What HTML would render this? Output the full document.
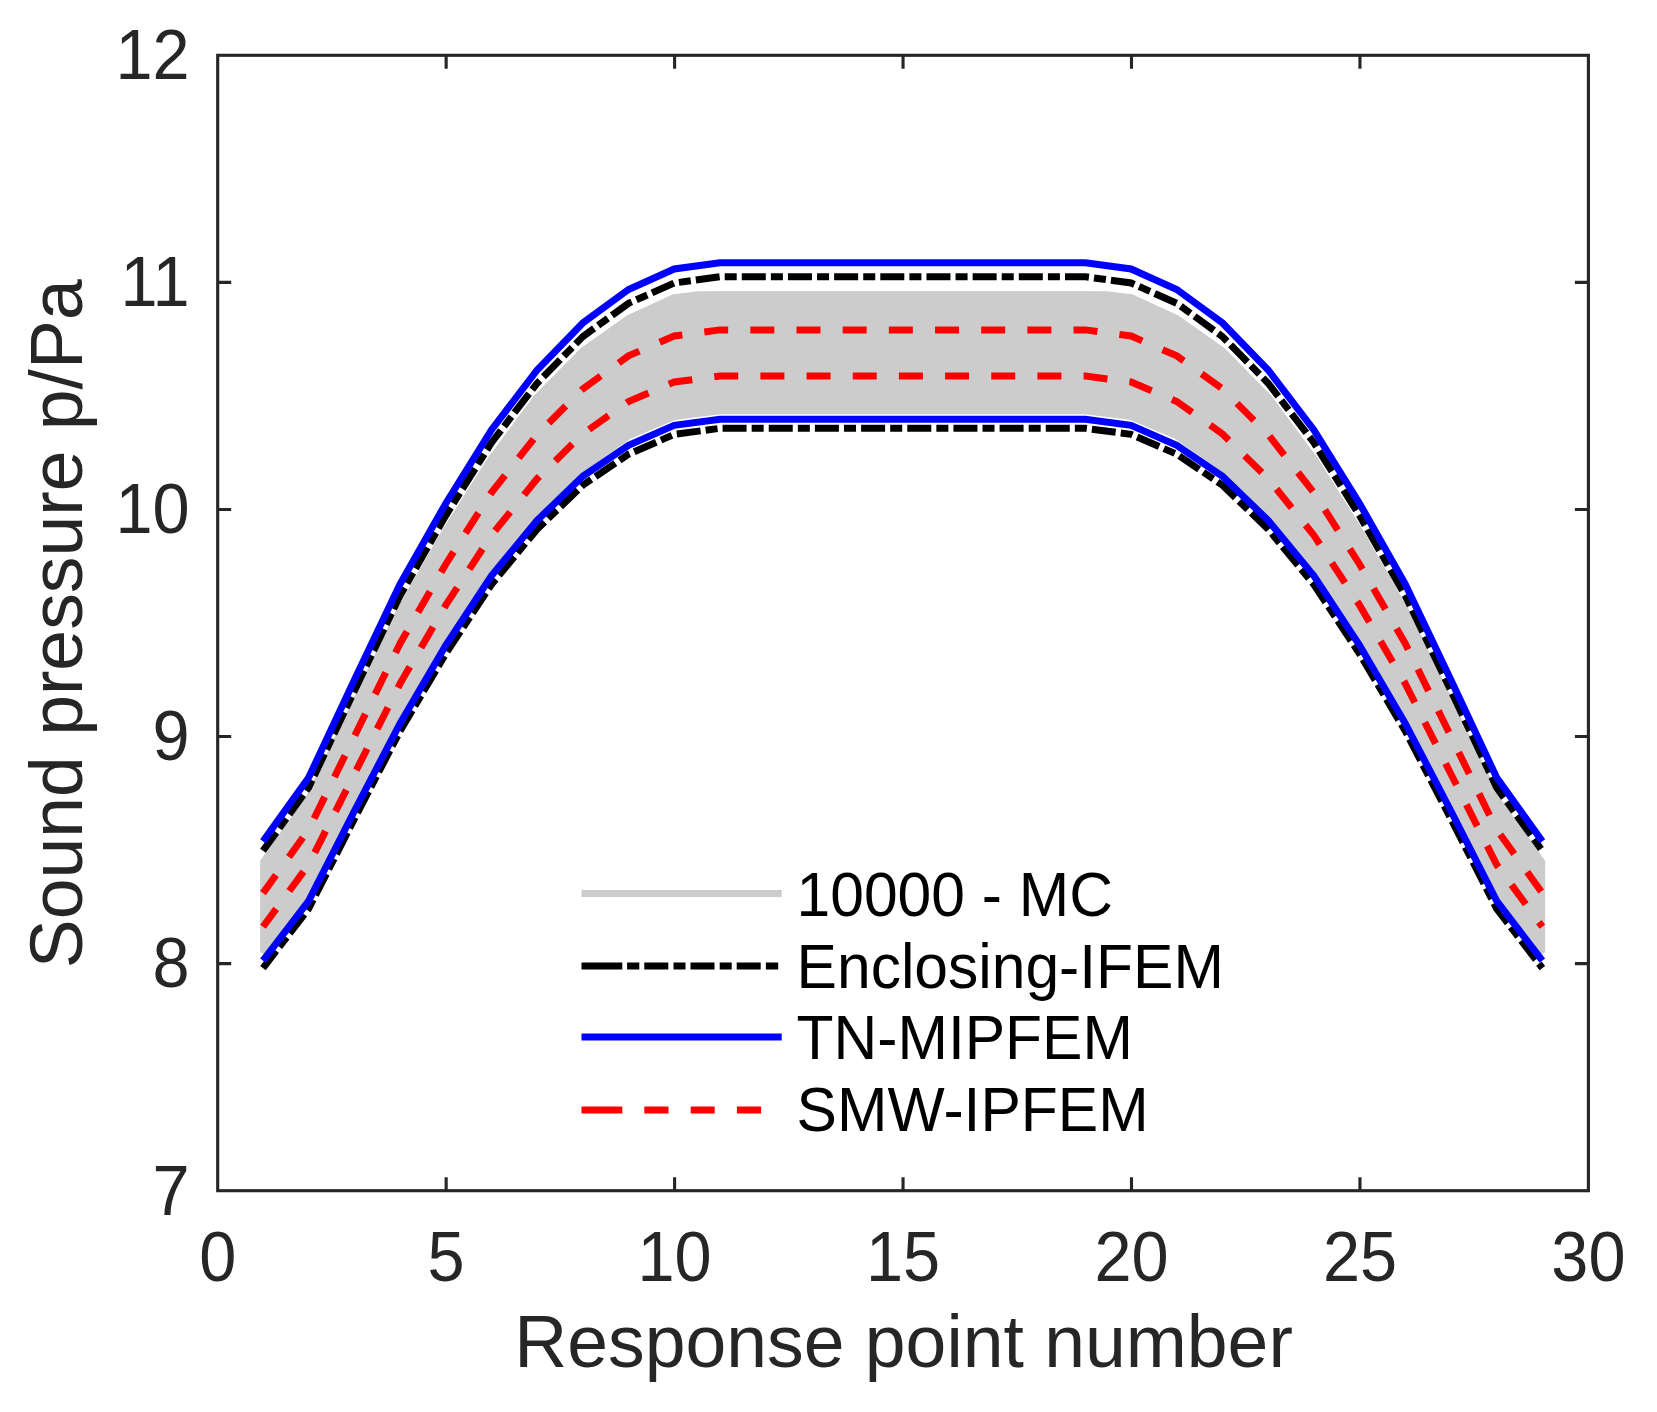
<!DOCTYPE html>
<html lang="en"><head><meta charset="utf-8"><title>Sound pressure response</title>
<style>html,body{margin:0;padding:0;background:#fff;}body{width:1657px;height:1412px;overflow:hidden;}svg{display:block;}text{font-family:"Liberation Sans",Arial,Helvetica,sans-serif;}.tk{font-size:66.67px;fill:#262626;}.lb{font-size:73.33px;fill:#262626;}.lg{font-size:60.55px;fill:#000;}</style>
</head><body>
<svg width="1657" height="1412" viewBox="0 0 1657 1412">
<rect x="0" y="0" width="1657" height="1412" fill="#ffffff"/>
<g id="mc" fill="none" stroke="#cccccc" stroke-width="7.000" stroke-linejoin="miter" stroke-linecap="butt">
<path d="M262.99 863.10 L308.68 799.50 L354.37 704.90 L400.06 610.70 L445.75 531.20 L491.44 459.00 L537.13 397.60 L582.82 351.30 L628.51 318.90 L674.20 297.80 L697.96 294.80 L719.89 294.80 L765.58 294.80 L811.27 294.80 L856.96 294.80 L902.65 294.80 L948.34 294.80 L994.03 294.80 L1039.72 294.80 L1085.41 294.80 L1107.34 294.80 L1131.10 297.80 L1176.79 318.90 L1222.48 351.30 L1268.17 397.60 L1313.86 459.00 L1359.55 531.20 L1405.24 610.70 L1450.93 704.90 L1496.62 799.50 L1542.31 863.10 L1542.31 954.00 L1496.62 892.70 L1450.93 803.80 L1405.24 715.00 L1359.55 637.00 L1313.86 567.80 L1268.17 512.50 L1222.48 468.00 L1176.79 435.80 L1131.10 416.60 L1085.41 410.80 L1039.72 410.80 L994.03 410.80 L948.34 410.80 L902.65 410.80 L856.96 410.80 L811.27 410.80 L765.58 410.80 L719.89 410.80 L674.20 416.60 L628.51 435.80 L582.82 468.00 L537.13 512.50 L491.44 567.80 L445.75 637.00 L400.06 715.00 L354.37 803.80 L308.68 892.70 L262.99 954.00 Z" fill="#cccccc" stroke="none"/>
<path d="M262.99 863.10 L308.68 799.50 L354.37 704.90 L400.06 610.70 L445.75 531.20 L491.44 459.00 L537.13 397.60 L582.82 351.30 L628.51 318.90 L674.20 297.80 L719.89 294.80 L765.58 294.80 L811.27 294.80 L856.96 294.80 L902.65 294.80 L948.34 294.80 L994.03 294.80 L1039.72 294.80 L1085.41 294.80 L1131.10 297.80 L1176.79 318.90 L1222.48 351.30 L1268.17 397.60 L1313.86 459.00 L1359.55 531.20 L1405.24 610.70 L1450.93 704.90 L1496.62 799.50 L1542.31 863.10"/>
<path d="M262.99 866.35 L308.68 802.83 L354.37 708.43 L400.06 614.43 L445.75 534.98 L491.44 462.89 L537.13 401.70 L582.82 355.47 L628.51 323.07 L674.20 302.04 L719.89 298.94 L765.58 298.94 L811.27 298.94 L856.96 298.94 L902.65 298.94 L948.34 298.94 L994.03 298.94 L1039.72 298.94 L1085.41 298.94 L1131.10 302.04 L1176.79 323.07 L1222.48 355.47 L1268.17 401.70 L1313.86 462.89 L1359.55 534.98 L1405.24 614.43 L1450.93 708.43 L1496.62 802.83 L1542.31 866.35"/>
<path d="M262.99 869.59 L308.68 806.16 L354.37 711.96 L400.06 618.15 L445.75 538.76 L491.44 466.77 L537.13 405.81 L582.82 359.64 L628.51 327.25 L674.20 306.29 L719.89 303.09 L765.58 303.09 L811.27 303.09 L856.96 303.09 L902.65 303.09 L948.34 303.09 L994.03 303.09 L1039.72 303.09 L1085.41 303.09 L1131.10 306.29 L1176.79 327.25 L1222.48 359.64 L1268.17 405.81 L1313.86 466.77 L1359.55 538.76 L1405.24 618.15 L1450.93 711.96 L1496.62 806.16 L1542.31 869.59"/>
<path d="M262.99 872.84 L308.68 809.49 L354.37 715.50 L400.06 621.88 L445.75 542.54 L491.44 470.66 L537.13 409.91 L582.82 363.80 L628.51 331.42 L674.20 310.53 L719.89 307.23 L765.58 307.23 L811.27 307.23 L856.96 307.23 L902.65 307.23 L948.34 307.23 L994.03 307.23 L1039.72 307.23 L1085.41 307.23 L1131.10 310.53 L1176.79 331.42 L1222.48 363.80 L1268.17 409.91 L1313.86 470.66 L1359.55 542.54 L1405.24 621.88 L1450.93 715.50 L1496.62 809.49 L1542.31 872.84"/>
<path d="M262.99 876.09 L308.68 812.81 L354.37 719.03 L400.06 625.60 L445.75 546.31 L491.44 474.54 L537.13 414.01 L582.82 367.97 L628.51 335.60 L674.20 314.77 L719.89 311.37 L765.58 311.37 L811.27 311.37 L856.96 311.37 L902.65 311.37 L948.34 311.37 L994.03 311.37 L1039.72 311.37 L1085.41 311.37 L1131.10 314.77 L1176.79 335.60 L1222.48 367.97 L1268.17 414.01 L1313.86 474.54 L1359.55 546.31 L1405.24 625.60 L1450.93 719.03 L1496.62 812.81 L1542.31 876.09"/>
<path d="M262.99 879.33 L308.68 816.14 L354.37 722.56 L400.06 629.33 L445.75 550.09 L491.44 478.43 L537.13 418.12 L582.82 372.14 L628.51 339.77 L674.20 319.01 L719.89 315.51 L765.58 315.51 L811.27 315.51 L856.96 315.51 L902.65 315.51 L948.34 315.51 L994.03 315.51 L1039.72 315.51 L1085.41 315.51 L1131.10 319.01 L1176.79 339.77 L1222.48 372.14 L1268.17 418.12 L1313.86 478.43 L1359.55 550.09 L1405.24 629.33 L1450.93 722.56 L1496.62 816.14 L1542.31 879.33"/>
<path d="M262.99 882.58 L308.68 819.47 L354.37 726.09 L400.06 633.05 L445.75 553.87 L491.44 482.31 L537.13 422.22 L582.82 376.31 L628.51 343.95 L674.20 323.26 L719.89 319.66 L765.58 319.66 L811.27 319.66 L856.96 319.66 L902.65 319.66 L948.34 319.66 L994.03 319.66 L1039.72 319.66 L1085.41 319.66 L1131.10 323.26 L1176.79 343.95 L1222.48 376.31 L1268.17 422.22 L1313.86 482.31 L1359.55 553.87 L1405.24 633.05 L1450.93 726.09 L1496.62 819.47 L1542.31 882.58"/>
<path d="M262.99 885.83 L308.68 822.80 L354.37 729.62 L400.06 636.78 L445.75 557.65 L491.44 486.20 L537.13 426.33 L582.82 380.48 L628.51 348.12 L674.20 327.50 L719.89 323.80 L765.58 323.80 L811.27 323.80 L856.96 323.80 L902.65 323.80 L948.34 323.80 L994.03 323.80 L1039.72 323.80 L1085.41 323.80 L1131.10 327.50 L1176.79 348.12 L1222.48 380.48 L1268.17 426.33 L1313.86 486.20 L1359.55 557.65 L1405.24 636.78 L1450.93 729.62 L1496.62 822.80 L1542.31 885.83"/>
<path d="M262.99 889.07 L308.68 826.13 L354.37 733.16 L400.06 640.50 L445.75 561.43 L491.44 490.09 L537.13 430.43 L582.82 384.64 L628.51 352.30 L674.20 331.74 L719.89 327.94 L765.58 327.94 L811.27 327.94 L856.96 327.94 L902.65 327.94 L948.34 327.94 L994.03 327.94 L1039.72 327.94 L1085.41 327.94 L1131.10 331.74 L1176.79 352.30 L1222.48 384.64 L1268.17 430.43 L1313.86 490.09 L1359.55 561.43 L1405.24 640.50 L1450.93 733.16 L1496.62 826.13 L1542.31 889.07"/>
<path d="M262.99 892.32 L308.68 829.46 L354.37 736.69 L400.06 644.23 L445.75 565.21 L491.44 493.97 L537.13 434.53 L582.82 388.81 L628.51 356.48 L674.20 335.99 L719.89 332.09 L765.58 332.09 L811.27 332.09 L856.96 332.09 L902.65 332.09 L948.34 332.09 L994.03 332.09 L1039.72 332.09 L1085.41 332.09 L1131.10 335.99 L1176.79 356.48 L1222.48 388.81 L1268.17 434.53 L1313.86 493.97 L1359.55 565.21 L1405.24 644.23 L1450.93 736.69 L1496.62 829.46 L1542.31 892.32"/>
<path d="M262.99 895.56 L308.68 832.79 L354.37 740.22 L400.06 647.95 L445.75 568.99 L491.44 497.86 L537.13 438.64 L582.82 392.98 L628.51 360.65 L674.20 340.23 L719.89 336.23 L765.58 336.23 L811.27 336.23 L856.96 336.23 L902.65 336.23 L948.34 336.23 L994.03 336.23 L1039.72 336.23 L1085.41 336.23 L1131.10 340.23 L1176.79 360.65 L1222.48 392.98 L1268.17 438.64 L1313.86 497.86 L1359.55 568.99 L1405.24 647.95 L1450.93 740.22 L1496.62 832.79 L1542.31 895.56"/>
<path d="M262.99 898.81 L308.68 836.11 L354.37 743.75 L400.06 651.68 L445.75 572.76 L491.44 501.74 L537.13 442.74 L582.82 397.15 L628.51 364.82 L674.20 344.47 L719.89 340.37 L765.58 340.37 L811.27 340.37 L856.96 340.37 L902.65 340.37 L948.34 340.37 L994.03 340.37 L1039.72 340.37 L1085.41 340.37 L1131.10 344.47 L1176.79 364.82 L1222.48 397.15 L1268.17 442.74 L1313.86 501.74 L1359.55 572.76 L1405.24 651.68 L1450.93 743.75 L1496.62 836.11 L1542.31 898.81"/>
<path d="M262.99 902.06 L308.68 839.44 L354.37 747.29 L400.06 655.40 L445.75 576.54 L491.44 505.63 L537.13 446.84 L582.82 401.31 L628.51 369.00 L674.20 348.71 L719.89 344.51 L765.58 344.51 L811.27 344.51 L856.96 344.51 L902.65 344.51 L948.34 344.51 L994.03 344.51 L1039.72 344.51 L1085.41 344.51 L1131.10 348.71 L1176.79 369.00 L1222.48 401.31 L1268.17 446.84 L1313.86 505.63 L1359.55 576.54 L1405.24 655.40 L1450.93 747.29 L1496.62 839.44 L1542.31 902.06"/>
<path d="M262.99 905.30 L308.68 842.77 L354.37 750.82 L400.06 659.12 L445.75 580.32 L491.44 509.51 L537.13 450.95 L582.82 405.48 L628.51 373.18 L674.20 352.96 L719.89 348.66 L765.58 348.66 L811.27 348.66 L856.96 348.66 L902.65 348.66 L948.34 348.66 L994.03 348.66 L1039.72 348.66 L1085.41 348.66 L1131.10 352.96 L1176.79 373.18 L1222.48 405.48 L1268.17 450.95 L1313.86 509.51 L1359.55 580.32 L1405.24 659.12 L1450.93 750.82 L1496.62 842.77 L1542.31 905.30"/>
<path d="M262.99 908.55 L308.68 846.10 L354.37 754.35 L400.06 662.85 L445.75 584.10 L491.44 513.40 L537.13 455.05 L582.82 409.65 L628.51 377.35 L674.20 357.20 L719.89 352.80 L765.58 352.80 L811.27 352.80 L856.96 352.80 L902.65 352.80 L948.34 352.80 L994.03 352.80 L1039.72 352.80 L1085.41 352.80 L1131.10 357.20 L1176.79 377.35 L1222.48 409.65 L1268.17 455.05 L1313.86 513.40 L1359.55 584.10 L1405.24 662.85 L1450.93 754.35 L1496.62 846.10 L1542.31 908.55"/>
<path d="M262.99 911.80 L308.68 849.43 L354.37 757.88 L400.06 666.58 L445.75 587.88 L491.44 517.29 L537.13 459.15 L582.82 413.82 L628.51 381.52 L674.20 361.44 L719.89 356.94 L765.58 356.94 L811.27 356.94 L856.96 356.94 L902.65 356.94 L948.34 356.94 L994.03 356.94 L1039.72 356.94 L1085.41 356.94 L1131.10 361.44 L1176.79 381.52 L1222.48 413.82 L1268.17 459.15 L1313.86 517.29 L1359.55 587.88 L1405.24 666.58 L1450.93 757.88 L1496.62 849.43 L1542.31 911.80"/>
<path d="M262.99 915.04 L308.68 852.76 L354.37 761.41 L400.06 670.30 L445.75 591.66 L491.44 521.17 L537.13 463.26 L582.82 417.99 L628.51 385.70 L674.20 365.69 L719.89 361.09 L765.58 361.09 L811.27 361.09 L856.96 361.09 L902.65 361.09 L948.34 361.09 L994.03 361.09 L1039.72 361.09 L1085.41 361.09 L1131.10 365.69 L1176.79 385.70 L1222.48 417.99 L1268.17 463.26 L1313.86 521.17 L1359.55 591.66 L1405.24 670.30 L1450.93 761.41 L1496.62 852.76 L1542.31 915.04"/>
<path d="M262.99 918.29 L308.68 856.09 L354.37 764.95 L400.06 674.02 L445.75 595.44 L491.44 525.06 L537.13 467.36 L582.82 422.15 L628.51 389.88 L674.20 369.93 L719.89 365.23 L765.58 365.23 L811.27 365.23 L856.96 365.23 L902.65 365.23 L948.34 365.23 L994.03 365.23 L1039.72 365.23 L1085.41 365.23 L1131.10 369.93 L1176.79 389.88 L1222.48 422.15 L1268.17 467.36 L1313.86 525.06 L1359.55 595.44 L1405.24 674.02 L1450.93 764.95 L1496.62 856.09 L1542.31 918.29"/>
<path d="M262.99 921.54 L308.68 859.41 L354.37 768.48 L400.06 677.75 L445.75 599.21 L491.44 528.94 L537.13 471.46 L582.82 426.32 L628.51 394.05 L674.20 374.17 L719.89 369.37 L765.58 369.37 L811.27 369.37 L856.96 369.37 L902.65 369.37 L948.34 369.37 L994.03 369.37 L1039.72 369.37 L1085.41 369.37 L1131.10 374.17 L1176.79 394.05 L1222.48 426.32 L1268.17 471.46 L1313.86 528.94 L1359.55 599.21 L1405.24 677.75 L1450.93 768.48 L1496.62 859.41 L1542.31 921.54"/>
<path d="M262.99 924.78 L308.68 862.74 L354.37 772.01 L400.06 681.48 L445.75 602.99 L491.44 532.83 L537.13 475.57 L582.82 430.49 L628.51 398.23 L674.20 378.41 L719.89 373.51 L765.58 373.51 L811.27 373.51 L856.96 373.51 L902.65 373.51 L948.34 373.51 L994.03 373.51 L1039.72 373.51 L1085.41 373.51 L1131.10 378.41 L1176.79 398.23 L1222.48 430.49 L1268.17 475.57 L1313.86 532.83 L1359.55 602.99 L1405.24 681.48 L1450.93 772.01 L1496.62 862.74 L1542.31 924.78"/>
<path d="M262.99 928.03 L308.68 866.07 L354.37 775.54 L400.06 685.20 L445.75 606.77 L491.44 536.71 L537.13 479.67 L582.82 434.66 L628.51 402.40 L674.20 382.66 L719.89 377.66 L765.58 377.66 L811.27 377.66 L856.96 377.66 L902.65 377.66 L948.34 377.66 L994.03 377.66 L1039.72 377.66 L1085.41 377.66 L1131.10 382.66 L1176.79 402.40 L1222.48 434.66 L1268.17 479.67 L1313.86 536.71 L1359.55 606.77 L1405.24 685.20 L1450.93 775.54 L1496.62 866.07 L1542.31 928.03"/>
<path d="M262.99 931.27 L308.68 869.40 L354.37 779.07 L400.06 688.92 L445.75 610.55 L491.44 540.60 L537.13 483.77 L582.82 438.82 L628.51 406.57 L674.20 386.90 L719.89 381.80 L765.58 381.80 L811.27 381.80 L856.96 381.80 L902.65 381.80 L948.34 381.80 L994.03 381.80 L1039.72 381.80 L1085.41 381.80 L1131.10 386.90 L1176.79 406.57 L1222.48 438.82 L1268.17 483.77 L1313.86 540.60 L1359.55 610.55 L1405.24 688.92 L1450.93 779.07 L1496.62 869.40 L1542.31 931.27"/>
<path d="M262.99 934.52 L308.68 872.73 L354.37 782.61 L400.06 692.65 L445.75 614.33 L491.44 544.49 L537.13 487.88 L582.82 442.99 L628.51 410.75 L674.20 391.14 L719.89 385.94 L765.58 385.94 L811.27 385.94 L856.96 385.94 L902.65 385.94 L948.34 385.94 L994.03 385.94 L1039.72 385.94 L1085.41 385.94 L1131.10 391.14 L1176.79 410.75 L1222.48 442.99 L1268.17 487.88 L1313.86 544.49 L1359.55 614.33 L1405.24 692.65 L1450.93 782.61 L1496.62 872.73 L1542.31 934.52"/>
<path d="M262.99 937.77 L308.68 876.06 L354.37 786.14 L400.06 696.38 L445.75 618.11 L491.44 548.37 L537.13 491.98 L582.82 447.16 L628.51 414.93 L674.20 395.39 L719.89 390.09 L765.58 390.09 L811.27 390.09 L856.96 390.09 L902.65 390.09 L948.34 390.09 L994.03 390.09 L1039.72 390.09 L1085.41 390.09 L1131.10 395.39 L1176.79 414.93 L1222.48 447.16 L1268.17 491.98 L1313.86 548.37 L1359.55 618.11 L1405.24 696.38 L1450.93 786.14 L1496.62 876.06 L1542.31 937.77"/>
<path d="M262.99 941.01 L308.68 879.39 L354.37 789.67 L400.06 700.10 L445.75 621.89 L491.44 552.26 L537.13 496.09 L582.82 451.33 L628.51 419.10 L674.20 399.63 L719.89 394.23 L765.58 394.23 L811.27 394.23 L856.96 394.23 L902.65 394.23 L948.34 394.23 L994.03 394.23 L1039.72 394.23 L1085.41 394.23 L1131.10 399.63 L1176.79 419.10 L1222.48 451.33 L1268.17 496.09 L1313.86 552.26 L1359.55 621.89 L1405.24 700.10 L1450.93 789.67 L1496.62 879.39 L1542.31 941.01"/>
<path d="M262.99 944.26 L308.68 882.71 L354.37 793.20 L400.06 703.83 L445.75 625.66 L491.44 556.14 L537.13 500.19 L582.82 455.50 L628.51 423.28 L674.20 403.87 L719.89 398.37 L765.58 398.37 L811.27 398.37 L856.96 398.37 L902.65 398.37 L948.34 398.37 L994.03 398.37 L1039.72 398.37 L1085.41 398.37 L1131.10 403.87 L1176.79 423.28 L1222.48 455.50 L1268.17 500.19 L1313.86 556.14 L1359.55 625.66 L1405.24 703.83 L1450.93 793.20 L1496.62 882.71 L1542.31 944.26"/>
<path d="M262.99 947.51 L308.68 886.04 L354.37 796.74 L400.06 707.55 L445.75 629.44 L491.44 560.03 L537.13 504.29 L582.82 459.66 L628.51 427.45 L674.20 408.11 L719.89 402.51 L765.58 402.51 L811.27 402.51 L856.96 402.51 L902.65 402.51 L948.34 402.51 L994.03 402.51 L1039.72 402.51 L1085.41 402.51 L1131.10 408.11 L1176.79 427.45 L1222.48 459.66 L1268.17 504.29 L1313.86 560.03 L1359.55 629.44 L1405.24 707.55 L1450.93 796.74 L1496.62 886.04 L1542.31 947.51"/>
<path d="M262.99 950.75 L308.68 889.37 L354.37 800.27 L400.06 711.27 L445.75 633.22 L491.44 563.91 L537.13 508.40 L582.82 463.83 L628.51 431.62 L674.20 412.36 L719.89 406.66 L765.58 406.66 L811.27 406.66 L856.96 406.66 L902.65 406.66 L948.34 406.66 L994.03 406.66 L1039.72 406.66 L1085.41 406.66 L1131.10 412.36 L1176.79 431.62 L1222.48 463.83 L1268.17 508.40 L1313.86 563.91 L1359.55 633.22 L1405.24 711.27 L1450.93 800.27 L1496.62 889.37 L1542.31 950.75"/>
<path d="M262.99 954.00 L308.68 892.70 L354.37 803.80 L400.06 715.00 L445.75 637.00 L491.44 567.80 L537.13 512.50 L582.82 468.00 L628.51 435.80 L674.20 416.60 L719.89 410.80 L765.58 410.80 L811.27 410.80 L856.96 410.80 L902.65 410.80 L948.34 410.80 L994.03 410.80 L1039.72 410.80 L1085.41 410.80 L1131.10 416.60 L1176.79 435.80 L1222.48 468.00 L1268.17 512.50 L1313.86 567.80 L1359.55 637.00 L1405.24 715.00 L1450.93 803.80 L1496.62 892.70 L1542.31 954.00"/>
<path d="M262.99 863.10 L308.68 799.50 L354.37 704.90 L400.06 610.70 L445.75 531.20 L491.44 459.00 L537.13 397.60 L582.82 351.30 L628.51 318.90 L674.20 297.80 L697.96 294.80 L719.89 294.80 L765.58 294.80 L811.27 294.80 L856.96 294.80 L902.65 294.80 L948.34 294.80 L994.03 294.80 L1039.72 294.80 L1085.41 294.80 L1107.34 294.80 L1131.10 297.80 L1176.79 318.90 L1222.48 351.30 L1268.17 397.60 L1313.86 459.00 L1359.55 531.20 L1405.24 610.70 L1450.93 704.90 L1496.62 799.50 L1542.31 863.10"/>
<path d="M260.14 861.07 V951.97 H264.14 V861.07 Z" fill="#cccccc" stroke="none"/>
<path d="M1545.16 861.07 V951.97 H1541.16 V861.07 Z" fill="#cccccc" stroke="none"/>
</g>
<g id="ifem" fill="none" stroke="#000000" stroke-width="7.000" stroke-linejoin="miter" stroke-dasharray="24 5.1 12 5.07">
<path d="M262.99 850.80 L308.68 787.40 L354.37 690.70 L400.06 595.50 L445.75 515.60 L491.44 442.70 L537.13 383.20 L582.82 336.60 L628.51 303.30 L674.20 283.00 L719.89 276.80 L765.58 276.80 L811.27 276.80 L856.96 276.80 L902.65 276.80 L948.34 276.80 L994.03 276.80 L1039.72 276.80 L1085.41 276.80 L1131.10 283.00 L1176.79 303.30 L1222.48 336.60 L1268.17 383.20 L1313.86 442.70 L1359.55 515.60 L1405.24 595.50 L1450.93 690.70 L1496.62 787.40 L1542.31 850.80" stroke-dashoffset="1.3"/>
<path d="M262.99 968.10 L308.68 908.60 L354.37 818.90 L400.06 731.00 L445.75 653.70 L491.44 584.50 L537.13 529.20 L582.82 485.20 L628.51 454.20 L674.20 434.40 L719.89 428.30 L765.58 428.30 L811.27 428.30 L856.96 428.30 L902.65 428.30 L948.34 428.30 L994.03 428.30 L1039.72 428.30 L1085.41 428.30 L1131.10 434.40 L1176.79 454.20 L1222.48 485.20 L1268.17 529.20 L1313.86 584.50 L1359.55 653.70 L1405.24 731.00 L1450.93 818.90 L1496.62 908.60 L1542.31 968.10" stroke-dashoffset="2.3"/>
</g>
<g id="tn" fill="none" stroke="#0000ff" stroke-width="7.000" stroke-linejoin="miter">
<path d="M262.99 841.40 L308.68 777.50 L354.37 680.00 L400.06 584.00 L445.75 503.50 L491.44 430.00 L537.13 370.00 L582.82 323.00 L628.51 289.50 L674.20 269.00 L719.89 262.80 L765.58 262.80 L811.27 262.80 L856.96 262.80 L902.65 262.80 L948.34 262.80 L994.03 262.80 L1039.72 262.80 L1085.41 262.80 L1131.10 269.00 L1176.79 289.50 L1222.48 323.00 L1268.17 370.00 L1313.86 430.00 L1359.55 503.50 L1405.24 584.00 L1450.93 680.00 L1496.62 777.50 L1542.31 841.40"/>
<path d="M262.99 960.60 L308.68 900.90 L354.37 811.00 L400.06 723.50 L445.75 645.30 L491.44 575.90 L537.13 520.40 L582.82 476.30 L628.51 445.30 L674.20 425.40 L719.89 419.20 L765.58 419.20 L811.27 419.20 L856.96 419.20 L902.65 419.20 L948.34 419.20 L994.03 419.20 L1039.72 419.20 L1085.41 419.20 L1131.10 425.40 L1176.79 445.30 L1222.48 476.30 L1268.17 520.40 L1313.86 575.90 L1359.55 645.30 L1405.24 723.50 L1450.93 811.00 L1496.62 900.90 L1542.31 960.60"/>
</g>
<g id="smw" fill="none" stroke="#ff0000" stroke-width="7.000" stroke-linejoin="miter" stroke-dasharray="24 22.17" stroke-dashoffset="1.7">
<path d="M262.99 893.10 L308.68 829.50 L354.37 736.40 L400.06 643.50 L445.75 564.20 L491.44 492.60 L537.13 434.60 L582.82 388.90 L628.51 355.90 L674.20 336.00 L719.89 329.90 L765.58 329.90 L811.27 329.90 L856.96 329.90 L902.65 329.90 L948.34 329.90 L994.03 329.90 L1039.72 329.90 L1085.41 329.90 L1131.10 336.00 L1176.79 355.90 L1222.48 388.90 L1268.17 434.60 L1313.86 492.60 L1359.55 564.20 L1405.24 643.50 L1450.93 736.40 L1496.62 829.50 L1542.31 893.10"/>
<path d="M262.99 926.80 L308.68 864.60 L354.37 774.00 L400.06 683.60 L445.75 605.20 L491.44 535.20 L537.13 478.70 L582.82 433.90 L628.51 401.50 L674.20 382.00 L719.89 376.10 L765.58 376.10 L811.27 376.10 L856.96 376.10 L902.65 376.10 L948.34 376.10 L994.03 376.10 L1039.72 376.10 L1085.41 376.10 L1131.10 382.00 L1176.79 401.50 L1222.48 433.90 L1268.17 478.70 L1313.86 535.20 L1359.55 605.20 L1405.24 683.60 L1450.93 774.00 L1496.62 864.60 L1542.31 926.80"/>
</g>
<g id="axes" fill="none" stroke="#262626" stroke-width="3.125" stroke-linecap="square">
<rect x="217.70" y="55.30" width="1370.70" height="1135.40"/>
</g>
<g id="ticks" fill="none" stroke="#262626" stroke-width="3.125" stroke-linecap="butt">
<path d="M446.15 1190.70 V1177.20 M446.15 55.30 V68.80"/>
<path d="M674.60 1190.70 V1177.20 M674.60 55.30 V68.80"/>
<path d="M903.05 1190.70 V1177.20 M903.05 55.30 V68.80"/>
<path d="M1131.50 1190.70 V1177.20 M1131.50 55.30 V68.80"/>
<path d="M1359.95 1190.70 V1177.20 M1359.95 55.30 V68.80"/>
<path d="M217.70 963.62 H231.20 M1588.40 963.62 H1574.90"/>
<path d="M217.70 736.54 H231.20 M1588.40 736.54 H1574.90"/>
<path d="M217.70 509.46 H231.20 M1588.40 509.46 H1574.90"/>
<path d="M217.70 282.38 H231.20 M1588.40 282.38 H1574.90"/>
</g>
<g class="tk" text-anchor="middle">
<text transform="translate(217.70 1280.60) scale(1 1.043)">0</text>
<text transform="translate(446.15 1280.60) scale(1 1.043)">5</text>
<text transform="translate(674.60 1280.60) scale(1 1.043)">10</text>
<text transform="translate(903.05 1280.60) scale(1 1.043)">15</text>
<text transform="translate(1131.50 1280.60) scale(1 1.043)">20</text>
<text transform="translate(1359.95 1280.60) scale(1 1.043)">25</text>
<text transform="translate(1588.40 1280.60) scale(1 1.043)">30</text>
</g>
<g class="tk" text-anchor="end">
<text transform="translate(189.60 1214.50) scale(1 1.043)">7</text>
<text transform="translate(189.60 987.42) scale(1 1.043)">8</text>
<text transform="translate(189.60 760.34) scale(1 1.043)">9</text>
<text transform="translate(189.60 533.26) scale(1 1.043)">10</text>
<text transform="translate(189.60 306.18) scale(1 1.043)">11</text>
<text transform="translate(189.60 79.10) scale(1 1.043)">12</text>
</g>
<text class="lb" text-anchor="middle" x="903.55" y="1366.50">Response point number</text>
<text class="lb" text-anchor="middle" transform="translate(81.80 623.80) rotate(-90)">Sound pressure p/Pa</text>
<g id="legend" fill="none" stroke-width="7.000">
<path d="M581.50 893.60 H781.70" stroke="#cccccc"/>
<path d="M581.50 965.90 H781.70" stroke="#000" stroke-dasharray="40.8 4.8 12.2 5 24 5.2 12 5 24 5.2 12 5 24 5.2 12.3 20"/>
<path d="M581.50 1037.00 H781.70" stroke="#0000ff"/>
<path d="M581.50 1110.10 H781.70" stroke="#ff0000" stroke-dasharray="40.8 22 24.2 22.2 24 22.2 24.2 60"/>
</g>
<g class="lg">
<text transform="translate(796.60 915.60) scale(1 1.040)">10000 - MC</text>
<text transform="translate(796.60 987.50) scale(1 1.040)">Enclosing-IFEM</text>
<text transform="translate(796.60 1059.30) scale(1 1.040)">TN-MIPFEM</text>
<text transform="translate(796.60 1131.40) scale(1 1.040)">SMW-IPFEM</text>
</g>
</svg>
</body></html>
